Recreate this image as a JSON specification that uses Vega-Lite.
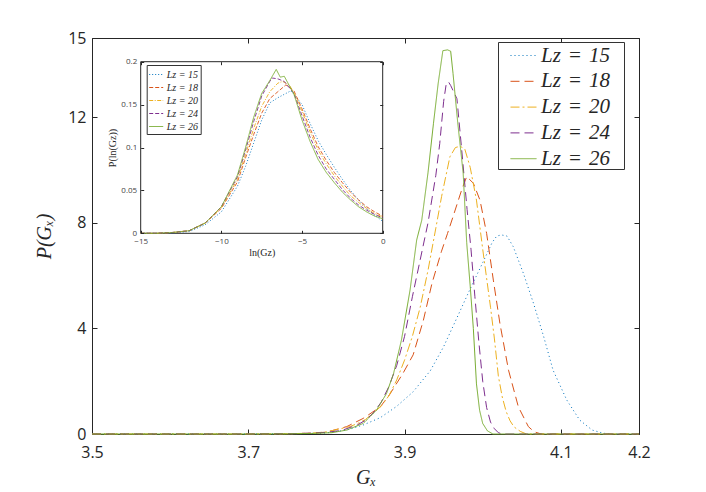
{
"$schema":"https://vega.github.io/schema/vega-lite/v6.json",
"width":547,"height":396,
"autosize":{"type":"none"},
"padding":{"left":92,"top":38,"right":67,"bottom":58},
"background":"white",
"view":{"stroke":null},
"config":{"axis":{"grid":false,"domainColor":"#262626","tickColor":"#262626","labelColor":"#262626","titleColor":"#262626","domainWidth":1,"tickWidth":1}},
"datasets":{
"main":[
{"L":"15","G":3.5,"P":0},{"L":"15","G":3.7,"P":0},{"L":"15","G":3.75,"P":0.01},{"L":"15","G":3.78,"P":0.02},{"L":"15","G":3.8,"P":0.04},{"L":"15","G":3.826,"P":0.15},{"L":"15","G":3.847,"P":0.34},{"L":"15","G":3.869,"P":0.62},{"L":"15","G":3.89,"P":1.05},{"L":"15","G":3.911,"P":1.6},{"L":"15","G":3.933,"P":2.4},{"L":"15","G":3.95,"P":3.31},{"L":"15","G":3.967,"P":4.4},{"L":"15","G":3.984,"P":5.5},{"L":"15","G":4.001,"P":6.55},{"L":"15","G":4.012,"P":7.25},{"L":"15","G":4.018,"P":7.5},{"L":"15","G":4.024,"P":7.54},{"L":"15","G":4.031,"P":7.5},{"L":"15","G":4.039,"P":7.1},{"L":"15","G":4.052,"P":6.09},{"L":"15","G":4.065,"P":4.95},{"L":"15","G":4.078,"P":3.69},{"L":"15","G":4.09,"P":2.42},{"L":"15","G":4.1075,"P":1.29},{"L":"15","G":4.124,"P":0.53},{"L":"15","G":4.14,"P":0.15},{"L":"15","G":4.154,"P":0.03},{"L":"15","G":4.165,"P":0},{"L":"15","G":4.2,"P":0},
{"L":"18","G":3.5,"P":0},{"L":"18","G":3.7,"P":0},{"L":"18","G":3.75,"P":0.01},{"L":"18","G":3.78,"P":0.03},{"L":"18","G":3.8,"P":0.07},{"L":"18","G":3.826,"P":0.28},{"L":"18","G":3.847,"P":0.59},{"L":"18","G":3.869,"P":1.03},{"L":"18","G":3.881,"P":1.5},{"L":"18","G":3.898,"P":2.3},{"L":"18","G":3.911,"P":3.0},{"L":"18","G":3.924,"P":4.3},{"L":"18","G":3.935,"P":5.7},{"L":"18","G":3.947,"P":6.9},{"L":"18","G":3.955,"P":7.6},{"L":"18","G":3.962,"P":8.23},{"L":"18","G":3.973,"P":9.24},{"L":"18","G":3.9795,"P":9.75},{"L":"18","G":3.988,"P":9.5},{"L":"18","G":3.9965,"P":8.86},{"L":"18","G":4.005,"P":7.6},{"L":"18","G":4.0136,"P":5.83},{"L":"18","G":4.022,"P":4.19},{"L":"18","G":4.033,"P":2.42},{"L":"18","G":4.0456,"P":1.03},{"L":"18","G":4.0584,"P":0.28},{"L":"18","G":4.066,"P":0.08},{"L":"18","G":4.075,"P":0},{"L":"18","G":4.2,"P":0},
{"L":"20","G":3.5,"P":0},{"L":"20","G":3.7,"P":0},{"L":"20","G":3.75,"P":0.01},{"L":"20","G":3.78,"P":0.03},{"L":"20","G":3.8,"P":0.08},{"L":"20","G":3.83,"P":0.28},{"L":"20","G":3.84,"P":0.4},{"L":"20","G":3.85,"P":0.55},{"L":"20","G":3.86,"P":0.8},{"L":"20","G":3.87,"P":1.05},{"L":"20","G":3.88,"P":1.45},{"L":"20","G":3.89,"P":2.05},{"L":"20","G":3.9,"P":2.8},{"L":"20","G":3.91,"P":3.7},{"L":"20","G":3.92,"P":4.8},{"L":"20","G":3.93,"P":6.2},{"L":"20","G":3.94,"P":7.8},{"L":"20","G":3.9474,"P":9.0},{"L":"20","G":3.958,"P":10.5},{"L":"20","G":3.965,"P":10.85},{"L":"20","G":3.971,"P":10.9},{"L":"20","G":3.977,"P":10.8},{"L":"20","G":3.984,"P":10.1},{"L":"20","G":3.992,"P":8.86},{"L":"20","G":4.0,"P":7.0},{"L":"20","G":4.01,"P":4.8},{"L":"20","G":4.015,"P":3.6},{"L":"20","G":4.02,"P":2.2},{"L":"20","G":4.025,"P":1.4},{"L":"20","G":4.03,"P":0.85},{"L":"20","G":4.035,"P":0.5},{"L":"20","G":4.04,"P":0.27},{"L":"20","G":4.048,"P":0.1},{"L":"20","G":4.056,"P":0},{"L":"20","G":4.2,"P":0},
{"L":"24","G":3.5,"P":0},{"L":"24","G":3.7,"P":0},{"L":"24","G":3.75,"P":0.01},{"L":"24","G":3.78,"P":0.03},{"L":"24","G":3.8,"P":0.06},{"L":"24","G":3.82,"P":0.14},{"L":"24","G":3.84,"P":0.35},{"L":"24","G":3.85,"P":0.52},{"L":"24","G":3.86,"P":0.8},{"L":"24","G":3.87,"P":1.2},{"L":"24","G":3.88,"P":1.8},{"L":"24","G":3.89,"P":2.6},{"L":"24","G":3.9,"P":3.7},{"L":"24","G":3.91,"P":5.2},{"L":"24","G":3.92,"P":6.6},{"L":"24","G":3.93,"P":8.0},{"L":"24","G":3.94,"P":9.8},{"L":"24","G":3.945,"P":11.0},{"L":"24","G":3.95,"P":12.6},{"L":"24","G":3.953,"P":13.2},{"L":"24","G":3.956,"P":13.35},{"L":"24","G":3.959,"P":13.2},{"L":"24","G":3.963,"P":12.95},{"L":"24","G":3.967,"P":12.7},{"L":"24","G":3.973,"P":10.8},{"L":"24","G":3.98,"P":8.5},{"L":"24","G":3.985,"P":7.0},{"L":"24","G":3.99,"P":5.2},{"L":"24","G":3.995,"P":3.5},{"L":"24","G":4.0,"P":2.0},{"L":"24","G":4.005,"P":1.0},{"L":"24","G":4.01,"P":0.45},{"L":"24","G":4.015,"P":0.2},{"L":"24","G":4.02,"P":0.05},{"L":"24","G":4.025,"P":0},{"L":"24","G":4.2,"P":0},
{"L":"26","G":3.5,"P":0},{"L":"26","G":3.7,"P":0},{"L":"26","G":3.75,"P":0.005},{"L":"26","G":3.78,"P":0.02},{"L":"26","G":3.807,"P":0.05},{"L":"26","G":3.826,"P":0.15},{"L":"26","G":3.847,"P":0.4},{"L":"26","G":3.864,"P":0.9},{"L":"26","G":3.877,"P":1.54},{"L":"26","G":3.886,"P":2.3},{"L":"26","G":3.896,"P":3.56},{"L":"26","G":3.907,"P":5.45},{"L":"26","G":3.9155,"P":7.35},{"L":"26","G":3.922,"P":8.1},{"L":"26","G":3.93,"P":9.9},{"L":"26","G":3.937,"P":11.77},{"L":"26","G":3.943,"P":13.28},{"L":"26","G":3.949,"P":14.52},{"L":"26","G":3.955,"P":14.55},{"L":"26","G":3.959,"P":14.5},{"L":"26","G":3.962,"P":13.66},{"L":"26","G":3.968,"P":11.8},{"L":"26","G":3.975,"P":9.88},{"L":"26","G":3.9795,"P":7.25},{"L":"26","G":3.984,"P":5.6},{"L":"26","G":3.988,"P":4.0},{"L":"26","G":3.992,"P":1.9},{"L":"26","G":3.996,"P":0.9},{"L":"26","G":4.0,"P":0.4},{"L":"26","G":4.006,"P":0.12},{"L":"26","G":4.013,"P":0},{"L":"26","G":4.2,"P":0}
],
"inset":[
{"L":"15","x":-15,"p":0},{"L":"15","x":-14,"p":0},{"L":"15","x":-13,"p":0.0005},{"L":"15","x":-12,"p":0.002},{"L":"15","x":-11,"p":0.01},{"L":"15","x":-10,"p":0.025},{"L":"15","x":-9,"p":0.055},{"L":"15","x":-8.5,"p":0.078},{"L":"15","x":-8,"p":0.105},{"L":"15","x":-7.5,"p":0.132},{"L":"15","x":-7,"p":0.152},{"L":"15","x":-6.5,"p":0.158},{"L":"15","x":-6,"p":0.163},{"L":"15","x":-5.7,"p":0.166},{"L":"15","x":-5.5,"p":0.162},{"L":"15","x":-5,"p":0.15},{"L":"15","x":-4.5,"p":0.128},{"L":"15","x":-4,"p":0.108},{"L":"15","x":-3.5,"p":0.092},{"L":"15","x":-3,"p":0.077},{"L":"15","x":-2.5,"p":0.063},{"L":"15","x":-2,"p":0.05},{"L":"15","x":-1.5,"p":0.039},{"L":"15","x":-1,"p":0.029},{"L":"15","x":-0.5,"p":0.021},{"L":"15","x":0,"p":0.014},
{"L":"18","x":-15,"p":0},{"L":"18","x":-14,"p":0},{"L":"18","x":-13,"p":0.001},{"L":"18","x":-12,"p":0.003},{"L":"18","x":-11,"p":0.012},{"L":"18","x":-10,"p":0.029},{"L":"18","x":-9,"p":0.06},{"L":"18","x":-8.5,"p":0.088},{"L":"18","x":-8,"p":0.115},{"L":"18","x":-7.5,"p":0.14},{"L":"18","x":-7,"p":0.157},{"L":"18","x":-6.5,"p":0.165},{"L":"18","x":-6,"p":0.173},{"L":"18","x":-5.5,"p":0.166},{"L":"18","x":-5,"p":0.145},{"L":"18","x":-4.5,"p":0.122},{"L":"18","x":-4,"p":0.101},{"L":"18","x":-3.5,"p":0.085},{"L":"18","x":-3,"p":0.071},{"L":"18","x":-2.5,"p":0.059},{"L":"18","x":-2,"p":0.048},{"L":"18","x":-1.5,"p":0.039},{"L":"18","x":-1,"p":0.031},{"L":"18","x":-0.5,"p":0.025},{"L":"18","x":0,"p":0.02},
{"L":"20","x":-15,"p":0},{"L":"20","x":-14,"p":0},{"L":"20","x":-13,"p":0.001},{"L":"20","x":-12,"p":0.003},{"L":"20","x":-11,"p":0.012},{"L":"20","x":-10,"p":0.03},{"L":"20","x":-9,"p":0.063},{"L":"20","x":-8.5,"p":0.092},{"L":"20","x":-8,"p":0.122},{"L":"20","x":-7.5,"p":0.148},{"L":"20","x":-7,"p":0.165},{"L":"20","x":-6.5,"p":0.175},{"L":"20","x":-6.2,"p":0.177},{"L":"20","x":-5.8,"p":0.173},{"L":"20","x":-5.5,"p":0.164},{"L":"20","x":-5,"p":0.142},{"L":"20","x":-4.5,"p":0.118},{"L":"20","x":-4,"p":0.097},{"L":"20","x":-3.5,"p":0.081},{"L":"20","x":-3,"p":0.067},{"L":"20","x":-2.5,"p":0.055},{"L":"20","x":-2,"p":0.044},{"L":"20","x":-1.5,"p":0.036},{"L":"20","x":-1,"p":0.029},{"L":"20","x":-0.5,"p":0.023},{"L":"20","x":0,"p":0.019},
{"L":"24","x":-15,"p":0},{"L":"24","x":-14,"p":0},{"L":"24","x":-13,"p":0.001},{"L":"24","x":-12,"p":0.003},{"L":"24","x":-11,"p":0.012},{"L":"24","x":-10,"p":0.031},{"L":"24","x":-9,"p":0.066},{"L":"24","x":-8.5,"p":0.097},{"L":"24","x":-8,"p":0.13},{"L":"24","x":-7.5,"p":0.16},{"L":"24","x":-7,"p":0.177},{"L":"24","x":-6.85,"p":0.181},{"L":"24","x":-6.5,"p":0.18},{"L":"24","x":-6.1,"p":0.177},{"L":"24","x":-5.5,"p":0.163},{"L":"24","x":-5,"p":0.137},{"L":"24","x":-4.5,"p":0.112},{"L":"24","x":-4,"p":0.091},{"L":"24","x":-3.5,"p":0.075},{"L":"24","x":-3,"p":0.063},{"L":"24","x":-2.5,"p":0.051},{"L":"24","x":-2,"p":0.041},{"L":"24","x":-1.5,"p":0.033},{"L":"24","x":-1,"p":0.027},{"L":"24","x":-0.5,"p":0.022},{"L":"24","x":0,"p":0.018},
{"L":"26","x":-15,"p":0},{"L":"26","x":-14,"p":0},{"L":"26","x":-13,"p":0.001},{"L":"26","x":-12,"p":0.003},{"L":"26","x":-11,"p":0.012},{"L":"26","x":-10,"p":0.031},{"L":"26","x":-9,"p":0.068},{"L":"26","x":-8.5,"p":0.1},{"L":"26","x":-8,"p":0.135},{"L":"26","x":-7.5,"p":0.163},{"L":"26","x":-7,"p":0.178},{"L":"26","x":-6.6,"p":0.191},{"L":"26","x":-6.35,"p":0.182},{"L":"26","x":-6.1,"p":0.183},{"L":"26","x":-5.5,"p":0.162},{"L":"26","x":-5,"p":0.132},{"L":"26","x":-4.5,"p":0.107},{"L":"26","x":-4,"p":0.086},{"L":"26","x":-3.5,"p":0.071},{"L":"26","x":-3,"p":0.059},{"L":"26","x":-2.5,"p":0.048},{"L":"26","x":-2,"p":0.039},{"L":"26","x":-1.5,"p":0.031},{"L":"26","x":-1,"p":0.025},{"L":"26","x":-0.5,"p":0.02},{"L":"26","x":0,"p":0.017}
],
"frame":[{"x1":-15,"x2":0,"y1":0,"y2":0.2}]
},
"layer":[
{
"data":{"name":"main"},
"mark":{"type":"line","strokeWidth":1},
"encoding":{
"x":{"field":"G","type":"quantitative","scale":{"domain":[3.5,4.2],"nice":false,"zero":false},
"axis":{"orient":"bottom","values":[3.5,3.7,3.9,4.1,4.2],"format":".1f","tickSize":-5,"labelFontSize":16,"labelFont":"Open Sans","labelPadding":15,"labelFlush":false,"title":"Gₓ","titleFont":"Liberation Serif","titleFontStyle":"italic","titleFontWeight":"normal","titleFontSize":20,"titlePadding":7}},
"y":{"field":"P","type":"quantitative","scale":{"domain":[0,15],"nice":false,"zero":false},
"axis":{"orient":"left","values":[0,4,8,12,15],"tickSize":-5,"labelFontSize":16,"labelFont":"Open Sans","labelPadding":11,"labelFlush":false,"title":"P(Gₓ)","titleFont":"Liberation Serif","titleFontStyle":"italic","titleFontWeight":"normal","titleFontSize":20,"titlePadding":13}},
"color":{"field":"L","type":"nominal","scale":{"domain":["15","18","20","24","26"],"range":["#0072BD","#D95319","#EDB120","#7E2F8E","#77AC30"]},
"legend":{"orient":"none","legendX":406,"legendY":4,"title":"\u00a0","titleOrient":"right","titlePadding":14,"titleFontSize":10,"labelExpr":"'Lz\u2004=\u2004' + datum.label","labelFont":"Liberation Serif","labelFontStyle":"italic","labelFontSize":21,"labelColor":"#262626","symbolType":"stroke","symbolSize":676,"symbolStrokeWidth":1,"symbolOffset":12,"strokeColor":"#333333","fillColor":"white","padding":0,"rowPadding":1.8,"labelOffset":4,
"encode":{"symbols":{"update":{"strokeDash":{"signal":"datum.value == '15' ? [1,3] : datum.value == '20' ? [9,3,2,3] : datum.value == '26' ? [1,0] : [9,5]"}}}}}},
"strokeDash":{"field":"L","type":"nominal","scale":{"domain":["15","18","20","24","26"],"range":[[1,3],[9,5],[9,3,2,3],[9,5],[1,0]]},"legend":null}
}
},
{
"data":{"name":"main"},
"mark":{"type":"point","opacity":0},
"encoding":{
"x":{"field":"G","type":"quantitative","scale":{"domain":[3.5,4.2],"nice":false,"zero":false},"axis":{"orient":"top","values":[3.5,3.7,3.9,4.1,4.2],"tickSize":-5,"labels":false,"title":null}},
"y":{"field":"P","type":"quantitative","scale":{"domain":[0,15],"nice":false,"zero":false},"axis":{"orient":"right","values":[0,4,8,12,15],"tickSize":-5,"labels":false,"title":null}}
}
},
{
"data":{"name":"frame"},
"mark":{"type":"rect","fill":"white","stroke":"#262626","strokeWidth":1},
"encoding":{
"x":{"field":"x1","type":"quantitative","scale":{"domain":[-15,0],"range":[48.7,290.7],"nice":false,"zero":false},
"axis":{"orient":"bottom","offset":-200.7,"zindex":1,"domain":false,"values":[-15,-10,-5,0],"tickSize":-3,"labelFontSize":8,"labelFont":"Open Sans","labelColor":"#444444","labelPadding":7,"labelFlush":false,"title":"ln(Gz)","titleFont":"Liberation Serif","titleFontWeight":"normal","titleFontSize":10,"titlePadding":2}},
"x2":{"field":"x2"},
"y":{"field":"y1","type":"quantitative","scale":{"domain":[0,0.2],"range":[195.3,23.7],"nice":false,"zero":false},
"axis":{"orient":"left","offset":-48.7,"zindex":1,"domain":false,"values":[0,0.05,0.1,0.15,0.2],"format":"~g","tickSize":-3,"labelFontSize":8,"labelFont":"Open Sans","labelColor":"#444444","labelPadding":7,"labelFlush":false,"title":"P(ln(Gz))","titleFont":"Liberation Serif","titleFontWeight":"normal","titleFontSize":10,"titlePadding":3}},
"y2":{"field":"y2"}
}
},
{
"data":{"name":"inset"},
"mark":{"type":"line","strokeWidth":0.9},
"encoding":{
"x":{"field":"x","type":"quantitative","scale":{"domain":[-15,0],"range":[48.7,290.7],"nice":false,"zero":false},"axis":{"orient":"top","offset":-23.7,"zindex":1,"domain":false,"values":[-15,-10,-5,0],"tickSize":-3,"labels":false,"title":null}},
"y":{"field":"p","type":"quantitative","scale":{"domain":[0,0.2],"range":[195.3,23.7],"nice":false,"zero":false},"axis":{"orient":"right","offset":-256.3,"zindex":1,"domain":false,"values":[0,0.05,0.1,0.15,0.2],"tickSize":-3,"labels":false,"title":null}},
"color":{"field":"L","type":"nominal","scale":{"domain":["15","18","20","24","26"],"range":["#0072BD","#D95319","#EDB120","#7E2F8E","#77AC30"]},
"legend":{"orient":"none","legendX":54.7,"legendY":27,"title":null,"labelExpr":"'Lz = ' + datum.label","labelFont":"Liberation Serif","labelFontStyle":"italic","labelFontSize":10,"labelColor":"#262626","symbolType":"stroke","symbolSize":196,"symbolStrokeWidth":1,"strokeColor":"#333333","fillColor":"white","padding":2,"rowPadding":-2.6,"labelOffset":3,
"encode":{"symbols":{"update":{"strokeDash":{"signal":"datum.value == '15' ? [1,2] : datum.value == '20' ? [4,1.5,1,1.5] : datum.value == '26' ? [1,0] : [4,2]"}}}}}},
"strokeDash":{"field":"L","type":"nominal","scale":{"domain":["15","18","20","24","26"],"range":[[1,2],[4,2],[4,1.5,1,1.5],[4,2],[1,0]]},"legend":null}
}
}
],
"resolve":{"scale":{"x":"independent","y":"independent","color":"independent","strokeDash":"independent"},"axis":{"x":"independent","y":"independent"},"legend":{"color":"independent","strokeDash":"independent"}}
}
